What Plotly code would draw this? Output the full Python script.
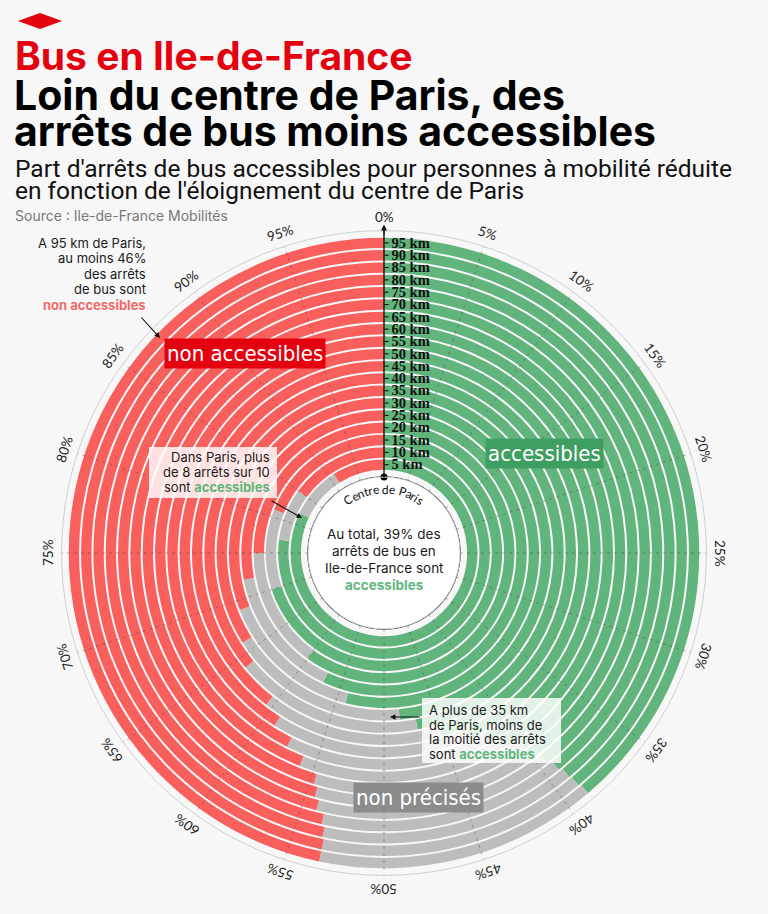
import math
import plotly.graph_objects as go

# rings : distance au centre de Paris (km)
distances = [5, 10, 15, 20, 25, 30, 35, 40, 45, 50, 55, 60, 65, 70, 75, 80, 85, 90, 95]
# parts en %
accessibles = [82, 77, 70, 60, 57, 54, 48.5, 47, 45, 43, 42, 41, 40, 40, 39.5, 39.2, 39, 38.9, 38.8]
non_precises = [9, 8, 11, 15, 15, 15, 17.5, 17, 15.5, 16, 15.4, 15, 14.7, 14.4, 14.6, 14.4, 14.4, 14.4, 14.5]
non_accessibles = [9, 15, 19, 25, 28, 31, 34, 36, 39.5, 41, 42.6, 44, 45.3, 45.6, 45.9, 46.4, 46.6, 46.7, 46.7]
pct_ticks = list(range(0, 100, 5))
km_labels = [f"<b>{d} km</b>" for d in distances]

W, H = 768, 914
CX, CY = 384, 553
R_OUT = 322.4
HOLE = 76
THICK = 4.2

GREEN = "#62b47d"
GRAY = "#bdbdbd"
RED = "#f95f5c"
BG = "#f7f7f7"


def px(x):
    return x / W


def py(y):
    return 1 - y / H


fig = go.Figure()

starts = [0] * len(distances)
for name, vals, color in [("accessibles", accessibles, GREEN),
                          ("non précisés", non_precises, GRAY),
                          ("non accessibles", non_accessibles, RED)]:
    fig.add_trace(go.Barpolar(
        r=[THICK] * len(distances),
        base=[d - THICK / 2 for d in distances],
        theta=[(s + v / 2) * 3.6 for s, v in zip(starts, vals)],
        width=[v * 3.6 for v in vals],
        marker=dict(color=color, line=dict(width=0)),
        name=name,
    ))
    starts = [s + v for s, v in zip(starts, vals)]

# dashed radial grid over the bars
gr, gt = [], []
for p in pct_ticks:
    gr += [0, 100, None]
    gt += [p * 3.6, p * 3.6, None]
fig.add_trace(go.Scatterpolar(r=gr, theta=gt, mode="lines", hoverinfo="skip",
                              line=dict(color="rgba(60,60,60,0.40)", width=1, dash="3px,4px"),
                              cliponaxis=False))

# centre circle outline + dot at the base of the km axis
fig.add_trace(go.Scatterpolar(r=[0] * 361, theta=list(range(361)), mode="lines",
                              line=dict(color="black", width=1.3), hoverinfo="skip",
                              cliponaxis=False))
fig.add_trace(go.Scatterpolar(r=[0], theta=[0], mode="markers",
                              marker=dict(color="black", size=7), hoverinfo="skip",
                              cliponaxis=False))

annotations = []
shapes = []

# percent labels around the circle
for p in pct_ticks:
    a = math.radians(p * 3.6)
    rr = 336
    annotations.append(dict(
        x=px(CX + rr * math.sin(a)), y=py(CY - rr * math.cos(a)),
        text=f"{p}%", textangle=p * 3.6, xanchor="center", yanchor="middle",
        font=dict(family="Lato, Roboto, sans-serif", size=13.5, color="#222")))

# "Centre de Paris" along the top of the circle
label = "Centre de Paris"
cw = {"C": .66, "e": .55, "n": .56, "t": .36, "r": .38, " ": .27, "d": .57,
      "P": .6, "a": .53, "i": .25, "s": .46}
fs = 12
widths = [cw[c] * fs for c in label]
total = sum(widths)
rt = 64
acc = 0
for c, w in zip(label, widths):
    phi = (acc + w / 2 - total / 2) / rt
    acc += w
    if c == " ":
        continue
    annotations.append(dict(
        x=px(CX + rt * math.sin(phi)), y=py(CY - rt * math.cos(phi)),
        text=c, textangle=math.degrees(phi), xanchor="center", yanchor="middle",
        font=dict(family="Lato, sans-serif", size=fs, color="#111")))

TXT = dict(family="Inter, Lato, sans-serif", size=13, color="#1a1a1a")
ACC = "<b><span style='color:#62b47d'>accessibles</span></b>"


def text_block(lines, x, y0, step, anchor, box=None):
    for i, t in enumerate(lines):
        annotations.append(dict(x=px(x), y=py(y0 + i * step), text=t, xanchor=anchor,
                                yanchor="middle", font=TXT))
    if box:
        shapes.append(dict(type="rect", xref="paper", yref="paper", layer="above",
                           fillcolor="rgba(255,255,255,0.82)", line=dict(width=0),
                           x0=px(box[0]), x1=px(box[1]), y0=py(box[3]), y1=py(box[2])))


text_block(["A 95 km de Paris,", "au moins 46%", "des arrêts", "de bus sont",
            "<b><span style='color:#f06a6c'>non accessibles</span></b>"],
           148, 243, 15.4, "right")
text_block(["Dans Paris, plus", "de 8 arrêts sur 10", "sont " + ACC],
           272, 457, 15, "right", box=(149, 277, 447, 498))
text_block(["A plus de 35 km", "de Paris, moins de", "la moitié des arrêts", "sont " + ACC],
           427, 710, 14.7, "left", box=(422, 561, 698, 763))

# centre text
for i, t in enumerate(["Au total, 39% des", "arrêts de bus en", "Ile-de-France sont", ACC]):
    annotations.append(dict(x=px(CX), y=py(534 + i * 17), text=t, xanchor="center",
                            yanchor="middle", font=dict(TXT, size=13.5)))

LBL = dict(family="DejaVu Sans Condensed, Liberation Sans Narrow, Roboto", size=22, color="white")
TITLE = dict(family="Inter, Roboto, sans-serif", size=41, color="#000", weight=900)

annotations += [
    # titles
    dict(x=px(13), y=py(56), text="<b>Bus en Ile-de-France</b>", xanchor="left", yanchor="middle",
         font=dict(TITLE, size=39, color="#e3000f")),
    dict(x=px(12), y=py(95), text="<b>Loin du centre de Paris, des</b>", xanchor="left",
         yanchor="middle", font=TITLE),
    dict(x=px(12), y=py(131), text="<b>arrêts de bus moins accessibles</b>", xanchor="left",
         yanchor="middle", font=TITLE),
    dict(x=px(13), y=py(168), text="Part d'arrêts de bus accessibles pour personnes à mobilité réduite",
         xanchor="left", yanchor="middle",
         font=dict(family="Roboto, sans-serif", size=24.5, color="#111")),
    dict(x=px(13), y=py(191), text="en fonction de l'éloignement du centre de Paris",
         xanchor="left", yanchor="middle",
         font=dict(family="Roboto, sans-serif", size=24.5, color="#111")),
    dict(x=px(13), y=py(215), text="Source : Ile-de-France Mobilités", xanchor="left", yanchor="middle",
         font=dict(family="Inter, Roboto, sans-serif", size=14, color="#777")),

    # category labels
    dict(x=px(245), y=py(354), text="non accessibles", bgcolor="#e3000f", borderpad=2,
         xanchor="center", yanchor="middle", font=LBL),
    dict(x=px(544), y=py(453), text="accessibles", bgcolor="#3f9f62", borderpad=2,
         xanchor="center", yanchor="middle", font=LBL),
    dict(x=px(418), y=py(797), text="non précisés", bgcolor="#8c8c8c", borderpad=2,
         xanchor="center", yanchor="middle", font=LBL),

    # arrows
    dict(x=px(160), y=py(338), ax=-20, ay=-22, text="", showarrow=True,
         arrowhead=2, arrowsize=1, arrowwidth=1.1, arrowcolor="#111"),
    dict(x=px(302), y=py(518), ax=-32, ay=-18, text="", showarrow=True,
         arrowhead=2, arrowsize=1, arrowwidth=1.1, arrowcolor="#111"),
    dict(x=px(390), y=py(717), ax=31, ay=0, text="", showarrow=True,
         arrowhead=2, arrowsize=1, arrowwidth=1.1, arrowcolor="#111"),
    dict(x=px(CX), y=py(CY - R_OUT - 6), ax=0, ay=12, text="", showarrow=True,
         arrowhead=2, arrowsize=1, arrowwidth=1.2, arrowcolor="#111"),
]
for a in annotations:
    a.setdefault("xref", "paper")
    a.setdefault("yref", "paper")
    a.setdefault("showarrow", False)

shapes += [
    dict(type="path", xref="paper", yref="paper", fillcolor="#e3000f", line=dict(width=0),
         path=f"M {px(18)},{py(21)} L {px(40)},{py(13)} L {px(62)},{py(21)} L {px(40)},{py(29)} Z"),
    dict(type="circle", xref="paper", yref="paper", layer="below", fillcolor="white",
         line=dict(width=0), x0=px(CX - HOLE), x1=px(CX + HOLE),
         y0=py(CY + HOLE), y1=py(CY - HOLE)),
]

fig.update_layout(
    width=W, height=H,
    margin=dict(l=0, r=0, t=0, b=0),
    paper_bgcolor=BG, plot_bgcolor=BG,
    showlegend=False,
    annotations=annotations,
    shapes=shapes,
    polar=dict(
        domain=dict(x=[px(CX - R_OUT), px(CX + R_OUT)], y=[py(CY + R_OUT), py(CY - R_OUT)]),
        hole=HOLE / R_OUT,
        bgcolor="rgba(0,0,0,0)",
        barmode="overlay",
        angularaxis=dict(rotation=90, direction="clockwise", showgrid=False,
                         showticklabels=False, ticks="", showline=True,
                         linecolor="#cfcfcf", linewidth=1),
        radialaxis=dict(range=[0, 100], angle=90, tickangle=90, tickvals=distances,
                        ticktext=km_labels, showgrid=False, showline=True,
                        linecolor="black", linewidth=1.2, ticks="outside", ticklen=4,
                        tickcolor="black", side="clockwise",
                        tickfont=dict(family="Liberation Serif, serif", size=14.5, color="#111"),
                        layer="above traces"),
    ),
)

fig.write_html("out.html", config={"displayModeBar": False},
               post_script="document.body.style.margin='0';"
                           "document.body.style.background='#f7f7f7';")
